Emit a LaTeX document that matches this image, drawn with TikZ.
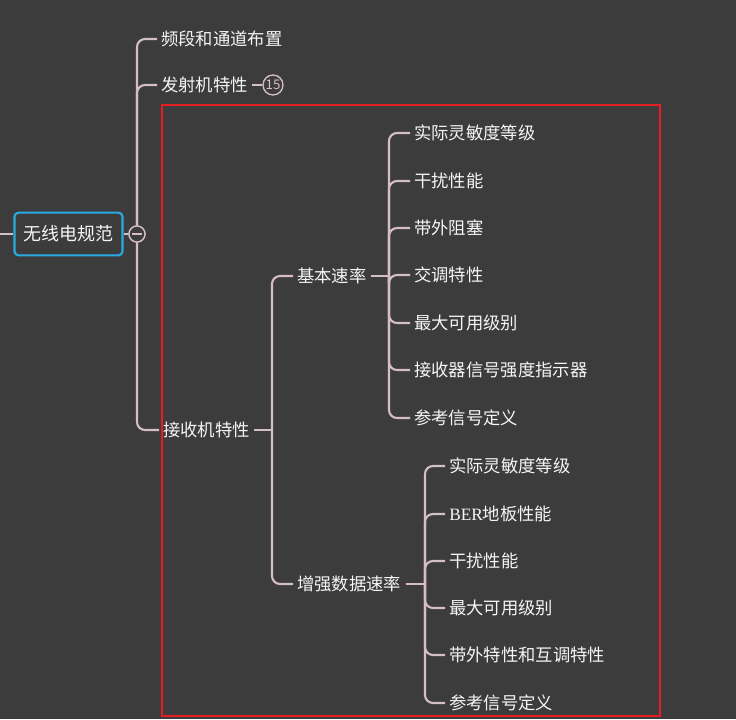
\documentclass[tikz,border=0pt]{standalone}
\usepackage{fontspec}
\setmainfont{Noto Sans CJK SC}
\newfontfamily\berfont{Liberation Serif}
\usepackage{xcolor}
\usepackage{tikz}
\usetikzlibrary{positioning, calc}
\definecolor{MapBg}{RGB}{60, 60, 60}
\definecolor{BranchPink}{RGB}{214, 190, 198}
\definecolor{RootBlue}{RGB}{41, 171, 226}
\definecolor{TextWhite}{RGB}{245, 245, 245}
\definecolor{FrameRed}{RGB}{230, 30, 35}
\tikzset{
  topic/.style={anchor=west, inner xsep=3pt, inner ysep=1pt, text=TextWhite, font=\fontsize{13}{15}\selectfont},
  branch/.style={draw=BranchPink, line width=1.6pt, rounded corners=6pt},
  foldmark/.style={circle, draw=BranchPink, fill=MapBg, line width=1pt, inner sep=0pt, minimum size=12pt}
}

\begin{document}
\begin{tikzpicture}[x=0.75pt, y=-0.75pt]
        \useasboundingbox[fill=MapBg] (0,0) rectangle (736,719);

        % root
        \node[
          draw=RootBlue,
          fill=MapBg,
          line width=1.6pt,
          rounded corners=3pt,
          minimum width=81pt,
          minimum height=32pt,
          text=TextWhite,
          font=\fontsize{13.5}{15}\selectfont
        ] (root) at (68.5,234) {无线电规范};
        \coordinate (lead) at (0,234);
        \node[foldmark] (fold) at (137,234) {};

        % level 1
        \node[topic] (band) at (157,39) {频段和通道布置};
        \node[topic] (tx) at (157,85) {发射机特性};
        \node[topic] (rx) at (159,430) {接收机特性};
        \node[foldmark, minimum size=15pt, text=BranchPink, font=\fontsize{10}{11}\selectfont] (txfold) at (273,85) {15};

        % level 2
        \coordinate (rxjoin) at (272,430);
        \node[topic] (basic) at (293,276) {基本速率};
        \node[topic] (edr) at (293,584) {增强数据速率};

        % basic rate items
        \coordinate (basicjoin) at (389,276);
        \node[topic] (b1) at (410,133) {实际灵敏度等级};
        \node[topic] (b2) at (410,181) {干扰性能};
        \node[topic] (b3) at (410,228) {带外阻塞};
        \node[topic] (b4) at (410,275) {交调特性};
        \node[topic] (b5) at (410,323) {最大可用级别};
        \node[topic] (b6) at (410,370) {接收器信号强度指示器};
        \node[topic] (b7) at (410,418) {参考信号定义};

        % enhanced data rate items
        \coordinate (edrjoin) at (425,584);
        \node[topic] (e1) at (445,466) {实际灵敏度等级};
        \node[topic] (e2) at (445,514) {{\berfont BER}地板性能};
        \node[topic] (e3) at (445,561) {干扰性能};
        \node[topic] (e4) at (445,608) {最大可用级别};
        \node[topic] (e5) at (445,655) {带外特性和互调特性};
        \node[topic] (e6) at (445,703) {参考信号定义};

        % connectors
        \draw[branch] (lead) -- (root.west);
        \draw[branch] (root.east) -- (fold.west);
        \draw[branch] (fold.north) |- (band.west);
        \draw[branch] (fold.north) |- (tx.west);
        \draw[branch] (fold.south) |- (rx.west);
        \draw[branch] (tx.east) -- (txfold.west);
        \draw[branch] (rx.east) -- (rxjoin);
        \draw[branch] (rxjoin) |- (basic.west);
        \draw[branch] (rxjoin) |- (edr.west);
        \draw[branch] (basic.east) -- (basicjoin);
        \foreach \item in {b1, b2, b3, b4, b5, b6, b7}
          \draw[branch] (basicjoin) |- (\item.west);
        \draw[branch] (edr.east) -- (edrjoin);
        \foreach \item in {e1, e2, e3, e4, e5, e6}
          \draw[branch] (edrjoin) |- (\item.west);
        \node[foldmark] at (fold) {};
        \draw[BranchPink, line width=1pt] ($(fold.center)+(-5,0)$) -- ($(fold.center)+(5,0)$);

        % frame around receiver branch
        \draw[FrameRed, line width=1.5pt] (162,105) rectangle (660,716);
      \end{tikzpicture}
\end{document}
